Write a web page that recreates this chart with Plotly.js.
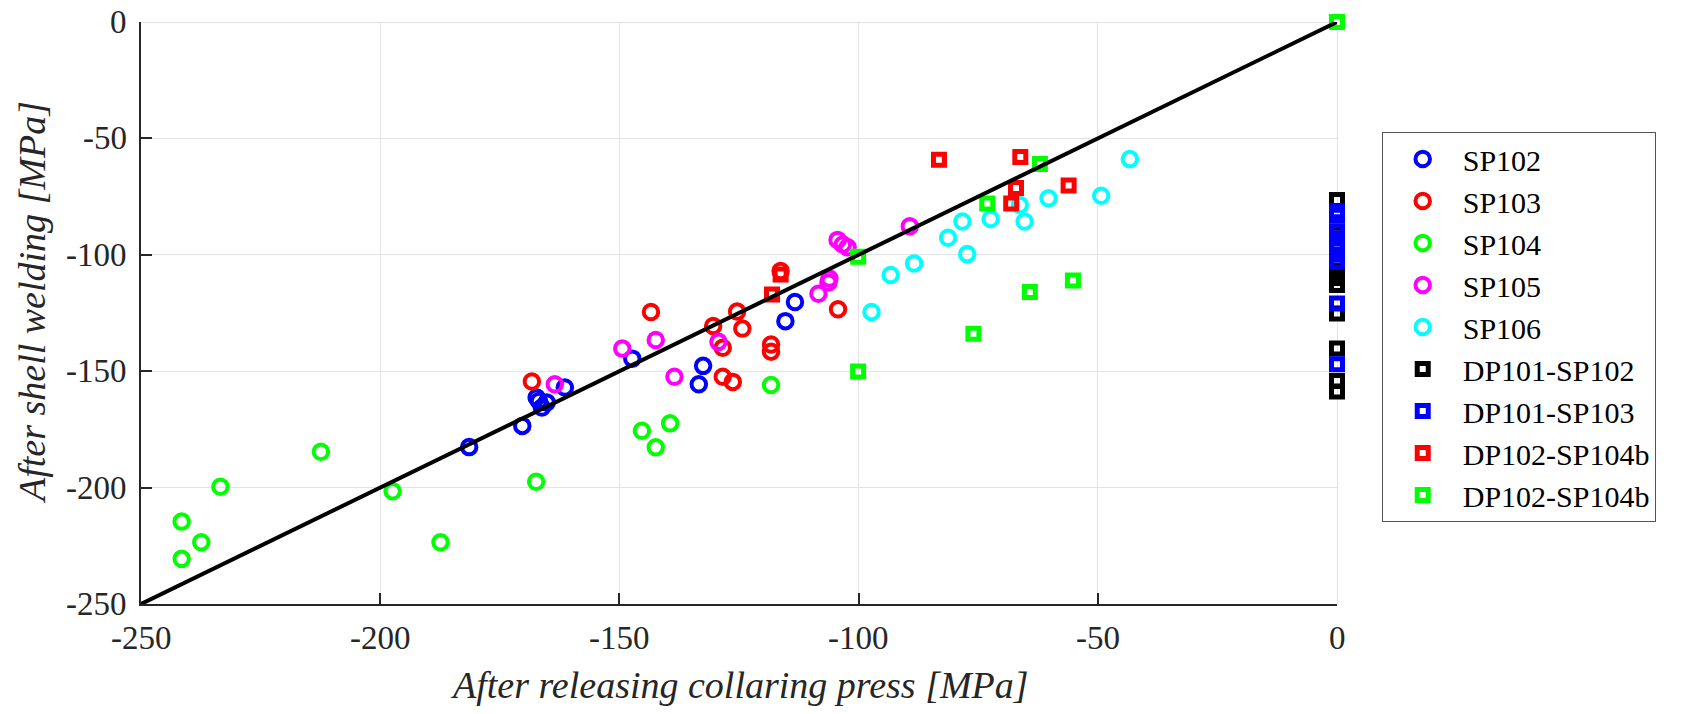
<!DOCTYPE html>
<html>
<head>
<meta charset="utf-8">
<script src="https://cdn.plot.ly/plotly-3.0.1.min.js"></script>
<style>html,body{margin:0;padding:0;background:#fff;}#chart{width:1691px;height:714px;}</style>
</head>
<body>
<div id="chart"></div>
<script>
// ---- data (MPa) ----
const sp102X = [-181.4, -170.3, -167.3, -166.8, -166.2, -165.2, -161.4, -147.3, -133.4, -132.5, -115.3, -113.3];
const sp102Y = [-182.6, -173.5, -161.3, -162.8, -165.6, -163.4, -157.0, -144.6, -155.6, -147.7, -128.5, -120.3];

const sp103X = [-168.3, -143.4, -130.4, -128.4, -128.4, -126.3, -125.4, -124.3, -118.3, -118.3, -116.3, -104.3];
const sp103Y = [-154.4, -124.6, -130.6, -139.9, -152.4, -154.6, -124.4, -131.7, -138.5, -141.6, -107.0, -123.4];

const sp104X = [-241.5, -241.5, -237.4, -233.4, -212.4, -197.4, -187.4, -167.4, -145.3, -142.4, -139.4, -118.3];
const sp104Y = [-214.6, -230.6, -223.5, -199.6, -184.6, -201.6, -223.5, -197.5, -175.6, -182.7, -172.4, -155.9];

const sp105X = [-163.5, -149.4, -142.4, -138.5, -129.3, -108.4, -106.3, -106.1, -104.4, -103.3, -102.3, -89.3];
const sp105Y = [-155.6, -140.3, -136.6, -152.4, -137.4, -116.7, -111.9, -110.2, -93.6, -95.6, -96.8, -87.7];

const sp106X = [-97.3, -93.3, -88.4, -81.3, -78.3, -77.3, -72.4, -66.3, -65.3, -60.3, -49.3, -43.3];
const sp106Y = [-124.6, -108.7, -103.7, -92.7, -85.7, -99.7, -84.6, -78.6, -85.7, -75.7, -74.6, -58.9];

const dp101sp102X = [0, 0, 0, 0, 0, 0, 0, 0, 0, 0, 0];
const dp101sp102Y = [-76.5, -91, -96, -104, -107, -110, -113, -125.2, -140.2, -154.2, -158.7];

const dp101sp103X = [0, 0, 0, 0, 0, 0, 0, 0, 0];
const dp101sp103Y = [-81.3, -83.2, -90, -93, -96.5, -100, -103, -120.9, -147];

const dp102sp104bRedX = [-118.1, -116.3, -83.2, -68.1, -67.1, -66.2, -56.1];
const dp102sp104bRedY = [-117.0, -108.5, -59.2, -78.0, -71.3, -58.0, -70.2];

const dp102sp104bGreenX = [-100.1, -100.1, -76.0, -73.1, -64.2, -62.1, -55.2, 0];
const dp102sp104bGreenY = [-150.1, -100.8, -133.9, -78.0, -116.0, -61.0, -111.0, 0];

const diagX = [-250, 0];
const diagY = [-250, 0];

const tickVals = [-250, -200, -150, -100, -50, 0];
const tickLabels = ['-250', '-200', '-150', '-100', '-50', '0'];

const xTitle = 'After releasing collaring press [MPa]';
const yTitle = 'After shell welding [MPa]';

// ---- styling ----
const AX = '#262626';
const FONT = 'Liberation Serif';

function circles(name, x, y, color) {
  return {type: 'scatter', mode: 'markers', name: name, x: x, y: y, cliponaxis: false,
    marker: {symbol: 'circle-open', size: 14.5, color: color, line: {width: 4, color: color}}};
}
function squares(name, x, y, color) {
  return {type: 'scatter', mode: 'markers', name: name, x: x, y: y, cliponaxis: false,
    marker: {symbol: 'square-open', size: 11, color: color, line: {width: 5, color: color}}};
}

const traces = [
  circles('SP102', sp102X, sp102Y, '#0000ff'),
  circles('SP103', sp103X, sp103Y, '#ff0000'),
  circles('SP104', sp104X, sp104Y, '#00ff00'),
  circles('SP105', sp105X, sp105Y, '#ff00ff'),
  circles('SP106', sp106X, sp106Y, '#00ffff'),
  squares('DP101-SP102', dp101sp102X, dp101sp102Y, '#000000'),
  squares('DP101-SP103', dp101sp103X, dp101sp103Y, '#0000ff'),
  squares('DP102-SP104b', dp102sp104bRedX, dp102sp104bRedY, '#ff0000'),
  squares('DP102-SP104b', dp102sp104bGreenX, dp102sp104bGreenY, '#00ff00'),
  {type: 'scatter', mode: 'lines', x: diagX, y: diagY, showlegend: false, cliponaxis: false,
    line: {color: '#000000', width: 4}, hoverinfo: 'skip'}
];

function axis() {
  return {
    range: [-250, 0], autorange: false,
    tickmode: 'array', tickvals: tickVals, showticklabels: false,
    showgrid: true, gridcolor: '#e3e3e3', gridwidth: 1,
    zeroline: true, zerolinecolor: '#e3e3e3', zerolinewidth: 1,
    showline: true, linecolor: AX, linewidth: 2,
    ticks: 'inside', ticklen: 11, tickwidth: 2, tickcolor: AX
  };
}

// tick labels and titles as annotations placed through the axes' scales
const annotations = [];
tickVals.forEach(function (v, i) {
  annotations.push({x: v, xref: 'x', y: 0, yref: 'paper', yanchor: 'top', xanchor: 'center',
    yshift: -14, text: tickLabels[i], showarrow: false, font: {family: FONT, size: 33, color: AX}});
  annotations.push({x: 0, xref: 'paper', y: v, yref: 'y', xanchor: 'right', yanchor: 'middle',
    xshift: -12, text: tickLabels[i], showarrow: false, font: {family: FONT, size: 33, color: AX}});
});
annotations.push({x: 0.5, xref: 'paper', y: 0, yref: 'paper', xanchor: 'center', yanchor: 'top',
  yshift: -58, text: '<i>' + xTitle + '</i>', showarrow: false, font: {family: FONT, size: 38, color: AX}});
annotations.push({x: 0, xref: 'paper', y: 0.5, yref: 'paper', xanchor: 'center', yanchor: 'middle',
  xshift: -109, yshift: 10, textangle: -90, text: '<i>' + yTitle + '</i>', showarrow: false,
  font: {family: FONT, size: 38, color: AX}});

const layout = {
  width: 1691, height: 714,
  margin: {l: 141, r: 354, t: 22, b: 110, pad: 0},
  paper_bgcolor: '#ffffff', plot_bgcolor: '#ffffff',
  showlegend: true,
  xaxis: axis(),
  yaxis: axis(),
  annotations: annotations,
  legend: {
    x: 1.0374, y: 0.811, xanchor: 'left', yanchor: 'top',
    bgcolor: '#ffffff', bordercolor: '#555555', borderwidth: 1,
    font: {family: FONT, size: 30, color: '#000000'},
    itemwidth: 70, tracegroupgap: 0
  }
};

Plotly.newPlot('chart', traces, layout, {staticPlot: true, displayModeBar: false});
</script>
</body>
</html>
